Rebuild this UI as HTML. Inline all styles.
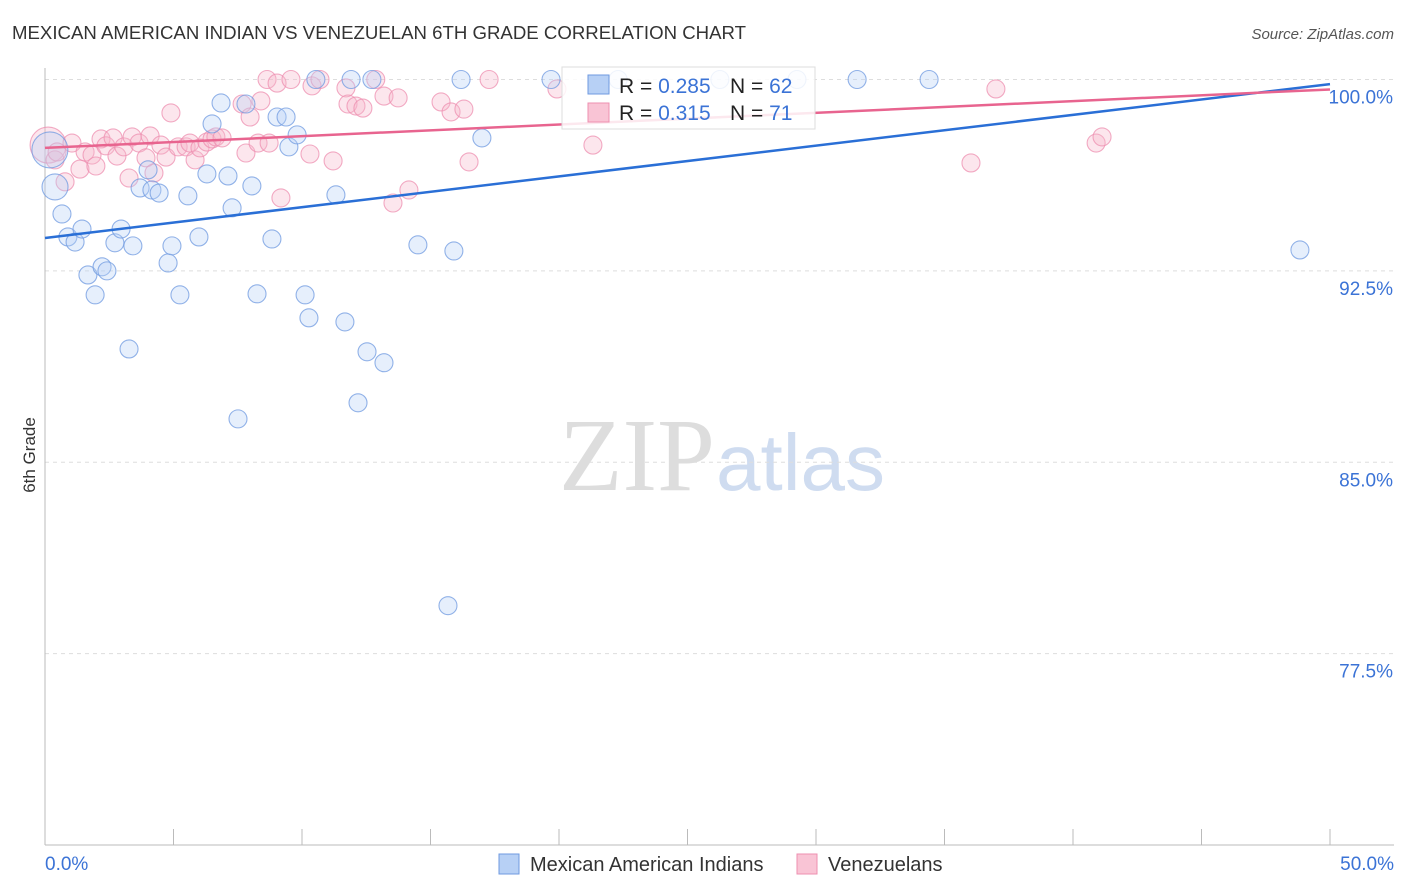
<!DOCTYPE html>
<html><head><meta charset="utf-8">
<style>
body{margin:0;background:#fff;font-family:"Liberation Sans",sans-serif;}
#wrap{position:relative;width:1406px;height:892px;overflow:hidden;}
</style></head>
<body>
<div id="wrap">
<svg id="svg" width="1406" height="892" xmlns="http://www.w3.org/2000/svg">
  <text x="12" y="39" font-size="18" fill="#333" textLength="734" lengthAdjust="spacingAndGlyphs">MEXICAN AMERICAN INDIAN VS VENEZUELAN 6TH GRADE CORRELATION CHART</text>
  <text x="1394" y="39" font-size="15" fill="#555" font-style="italic" text-anchor="end">Source: ZipAtlas.com</text>
  <text x="35" y="455" font-size="17" fill="#333" transform="rotate(-90 35 455)" text-anchor="middle">6th Grade</text>
  <text x="715" y="490" font-size="104" fill="#ddd" text-anchor="end" font-family="Liberation Serif,serif">ZIP</text>
  <text x="716" y="490" font-size="80" fill="#cfdcf0">atlas</text>
  <g id="grid"></g>
  <g id="axes"></g>
  <g id="pts"></g>
  <g id="lines"></g>
  <g>
    <rect x="562" y="67" width="253" height="62" fill="#fff" fill-opacity="0.85" stroke="#ddd"/>
    <rect x="588" y="75" width="21" height="19" fill="#b7d0f5" stroke="#6f9ae0"/>
    <text x="619" y="93" font-size="21" fill="#222">R = <tspan fill="#3b73d6">0.285</tspan></text>
    <text x="730" y="93" font-size="21" fill="#222">N = <tspan fill="#3b73d6">62</tspan></text>
    <rect x="588" y="103" width="21" height="19" fill="#f9c4d5" stroke="#ee8fb0"/>
    <text x="619" y="120" font-size="21" fill="#222">R = <tspan fill="#3b73d6"> 0.315</tspan></text>
    <text x="730" y="120" font-size="21" fill="#222">N = <tspan fill="#3b73d6"> 71</tspan></text>
  </g>
  <g>
    <rect x="499" y="854" width="20" height="20" fill="#b7d0f5" stroke="#6f9ae0"/>
    <text x="530" y="871" font-size="20" fill="#333">Mexican American Indians</text>
    <rect x="797" y="854" width="20" height="20" fill="#f9c4d5" stroke="#ee8fb0"/>
    <text x="828" y="871" font-size="20" fill="#333">Venezuelans</text>
  </g>
</svg>
</div>
<script>
const blueX=[0.19,0.39,0.66,0.89,1.17,1.44,1.67,1.95,2.22,2.41,2.72,2.96,3.27,3.42,3.70,4.01,4.16,4.44,4.79,4.94,5.25,5.56,5.99,6.30,6.50,6.85,7.12,7.28,7.51,7.82,8.05,8.25,8.83,9.03,9.38,9.49,9.81,10.12,10.27,10.54,11.32,11.67,11.91,12.18,12.53,12.72,13.19,14.51,15.68,15.91,16.19,17.00,19.69,22.30,26.26,29.26,31.60,34.40,48.83];
const blueY=[97.24,95.79,94.73,93.83,93.63,94.14,92.34,91.56,92.66,92.50,93.60,94.14,89.44,93.48,95.75,96.46,95.67,95.55,92.81,93.48,91.56,95.44,93.83,96.30,98.26,99.08,96.22,94.97,86.70,99.04,95.83,91.60,93.75,98.53,98.53,97.36,97.83,91.56,90.66,100,95.48,90.50,100,87.33,89.33,100,88.90,93.52,79.38,93.28,100,97.71,100,100,100,100,100,100,93.32];
const pinkX=[0.12,0.39,0.47,0.78,1.05,1.36,1.56,1.83,1.98,2.18,2.37,2.65,2.80,3.07,3.27,3.39,3.66,3.93,4.09,4.24,4.51,4.71,4.90,5.18,5.49,5.64,5.84,6.03,6.30,6.50,6.65,6.89,7.67,7.82,7.98,8.29,8.40,8.64,8.72,9.03,9.18,9.57,10.31,10.39,10.70,11.21,11.71,11.79,12.10,12.37,12.87,13.19,13.74,14.16,13.54,15.41,15.80,16.30,16.50,17.28,19.92,21.32,36.03,37.00,40.90,41.13];
const pinkY=[97.43,96.85,97.16,95.99,97.51,96.49,97.16,97.04,96.61,97.67,97.40,97.71,97.00,97.36,96.14,97.75,97.51,96.93,97.79,96.34,97.43,96.96,98.69,97.36,97.36,97.51,96.85,97.32,97.55,97.67,97.75,97.71,99.04,97.12,98.53,97.51,99.16,100,97.51,99.86,95.36,100,97.08,99.75,100,96.81,99.67,99.04,98.96,98.88,100,99.35,99.28,95.67,95.16,99.12,98.73,98.84,96.77,100,99.63,97.43,96.73,99.63,97.51,97.75];
const blueLine=[93.79,99.82];
const pinkLine=[97.32,99.61];
const yTicks=[77.5,85.0,92.5,100.0];
const yTickLabels=["77.5%","85.0%","92.5%","100.0%"];
const xTickVals=[0,5,10,15,20,25,30,35,40,45,50];

const NS="http://www.w3.org/2000/svg";
const X=v=>45+v/50*1285;
const Y=v=>845-(v-70)/30*765.5;
function mk(tag,attrs,parent){const e=document.createElementNS(NS,tag);for(const k in attrs)e.setAttribute(k,attrs[k]);document.getElementById(parent).appendChild(e);return e;}

yTicks.forEach((t,i)=>{
  const g=mk('line',{x1:45,x2:1394,y1:Y(t),y2:Y(t),stroke:'#ddd','stroke-dasharray':'4,4'},'grid');
  
  
  const l=mk('text',{x:1393,y:Y(t)+24,'font-size':19,fill:'#3b73d6','text-anchor':'end'},'axes');
  l.textContent=yTickLabels[i];
  
  
});
const ax=mk('line',{x1:45,x2:45,y1:68,y2:845,stroke:'#bbb'},'axes');


const xa=mk('line',{x1:45,x2:1394,y1:845,y2:845,stroke:'#bbb'},'axes');


xTickVals.forEach(t=>{
  const tk=mk('line',{x1:X(t),x2:X(t),y1:829,y2:845,stroke:'#bbb'},'axes');
  
  
});
const xl0=mk('text',{x:45,y:870,'font-size':19,fill:'#3b73d6'},'axes');xl0.textContent='0.0%';


const xl1=mk('text',{x:1394,y:870,'font-size':19,fill:'#3b73d6','text-anchor':'end'},'axes');xl1.textContent='50.0%';



function dots(xs,ys,fill,stroke,name){
  xs.forEach((x,i)=>{
    const r=(i===0)?18:(i===1&&name.startsWith('mex')?13:9);
    const c=mk('circle',{cx:X(x),cy:Y(ys[i]),r:r,fill:fill,'fill-opacity':0.35,stroke:stroke,'stroke-opacity':0.75,'stroke-width':1.1},'pts');
    
    
  });
}
dots(pinkX,pinkY,'#f6b8cc','#ee8fb0','venezuelan-point');
dots(blueX,blueY,'#b7d0f5','#6f9ae0','mexican-american-indian-point');
const bl=mk('line',{x1:X(0),y1:Y(blueLine[0]),x2:X(50),y2:Y(blueLine[1]),stroke:'#2a6fd6','stroke-width':2.5},'lines');


const pl=mk('line',{x1:X(0),y1:Y(pinkLine[0]),x2:X(50),y2:Y(pinkLine[1]),stroke:'#e8648f','stroke-width':2.5},'lines');


</script>
</body></html>
